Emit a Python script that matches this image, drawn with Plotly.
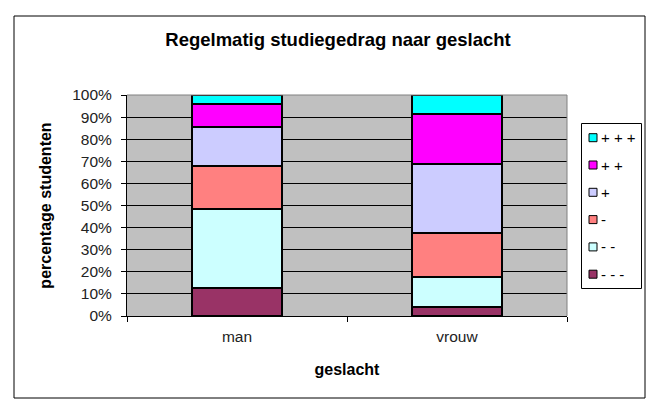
import plotly.graph_objects as go

categories = ["man", "vrouw"]
series_names = ["- - -", "- -", "-", "+", "+ +", "+ + +"]
series_values = {
    "- - -": [12.5, 4.0],
    "- -": [36.0, 13.5],
    "-": [19.5, 20.0],
    "+": [17.5, 31.5],
    "+ +": [10.5, 22.5],
    "+ + +": [4.0, 8.5],
}
series_colors = {
    "- - -": "#993366",
    "- -": "#CCFFFF",
    "-": "#FF8080",
    "+": "#CCCCFF",
    "+ +": "#FF00FF",
    "+ + +": "#00FFFF",
}
y_ticks = list(range(0, 101, 10))
y_ticktext = [f"{v}%" for v in y_ticks]

# plot area in pixels
L, R, T, B = 127, 567, 95, 316
W, H = R - L, B - T


def px(x):
    return (x - L) / W


def py(y):
    return (B - y) / H


fig = go.Figure()
for name in series_names:
    fig.add_trace(go.Bar(
        x=categories, y=series_values[name], name=name,
        marker=dict(color=series_colors[name], line=dict(color="black", width=2)),
        showlegend=False,
    ))

font = "Liberation Sans, Arial, sans-serif"
fig.update_layout(
    barmode="stack",
    bargap=0.595,
    width=657, height=414,
    margin=dict(l=L, r=657 - R, t=T, b=414 - B, autoexpand=False),
    paper_bgcolor="white",
    plot_bgcolor="#C0C0C0",
    font=dict(family=font, size=15, color="black"),
    title=dict(text="<b>Regelmatig studiegedrag naar geslacht</b>",
               x=338/657, xanchor="center", y=1-40/414, yanchor="middle",
               font=dict(size=18.5, family=font)),
    xaxis=dict(
        showline=True, linecolor="black", linewidth=1,
        ticks="outside", ticklen=5, tickcolor="black", tickson="boundaries",
        title=dict(text="<b>geslacht</b>", font=dict(size=16), standoff=20),
        tickfont=dict(size=15.5, color="#222"),
        ticklabelstandoff=6,
    ),
    yaxis=dict(
        range=[0, 100], tickvals=y_ticks, ticktext=y_ticktext,
        showgrid=True, gridcolor="black", gridwidth=1,
        showline=True, linecolor="black", linewidth=1,
        ticks="outside", ticklen=5, tickcolor="black",
        tickfont=dict(size=15.5, color="#222"),
        ticklabelstandoff=6,
        title=dict(text="<b>percentage studenten</b>", font=dict(size=16), standoff=16),
        zeroline=False,
    ),
    showlegend=False,
)

# outer chart border
fig.add_shape(type="rect", xref="paper", yref="paper",
              x0=px(14), x1=px(645), y0=py(398), y1=py(16),
              line=dict(color="black", width=1), fillcolor="rgba(0,0,0,0)", layer="below")
# plot-area border on top and right (grey)
fig.add_shape(type="line", xref="paper", yref="paper", x0=0, x1=1, y0=1, y1=1,
              line=dict(color="#808080", width=1), layer="above")
fig.add_shape(type="line", xref="paper", yref="paper", x0=1, x1=1, y0=0, y1=1,
              line=dict(color="#808080", width=1), layer="above")

# legend box (drawn with the chart's own series names and colours)
fig.add_shape(type="rect", xref="paper", yref="paper",
              x0=px(581.5), x1=px(641.5), y0=py(288.5), y1=py(123.5),
              line=dict(color="black", width=1), fillcolor="white", layer="above")
legend_top, legend_step = 137.7, 27.3
for k, name in enumerate(reversed(series_names)):
    yc = legend_top + k * legend_step
    fig.add_shape(type="rect", xref="paper", yref="paper",
                  x0=px(589), x1=px(597), y0=py(yc + 4), y1=py(yc - 4),
                  line=dict(color="black", width=1), fillcolor=series_colors[name],
                  layer="above")
    fig.add_annotation(xref="paper", yref="paper", x=px(599), y=py(yc),
                       xanchor="left", yanchor="middle", showarrow=False,
                       text=name, font=dict(size=15, family=font, color="black"))

fig.write_html("out.html", config={"displayModeBar": False},
               post_script="document.body.style.margin='0';")
